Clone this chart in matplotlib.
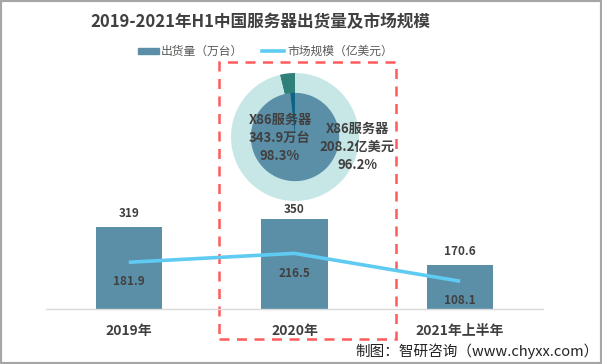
import matplotlib
matplotlib.use("Agg")
import matplotlib.pyplot as plt
from matplotlib.patches import Rectangle
from matplotlib.lines import Line2D

plt.rcParams['font.family'] = ['Noto Sans CJK SC', 'DejaVu Sans']

years = ["2019年", "2020年", "2021年上半年"]
shipments = [319, 350, 170.6]       # 万台
market = [181.9, 216.5, 108.1]      # 亿美元
x86_ship_share = [1.7, 98.3]
x86_market_share = [3.8, 96.2]

W, H = 602, 364
bar_color = "#5B8FA8"
line_color = "#5FCBF3"
text_color = "#404040"

fig = plt.figure(figsize=(W / 100, H / 100), dpi=100)

def fx(px):
    return px / W

def fy(py):
    return 1 - py / H

# main axes
ax = fig.add_axes([fx(46), 55 / H, 497 / W, 246.7 / H])
ax.set_zorder(2)
xs = range(len(years))
ax.bar(xs, shipments, width=0.4, color=bar_color, zorder=2)
ax.plot(xs, market, color=line_color, lw=2.6, zorder=3, solid_capstyle="butt")
ax.set_xlim(-0.5, 2.5)
ax.set_ylim(0, 960)
for s in ["top", "right", "left"]:
    ax.spines[s].set_visible(False)
ax.spines["bottom"].set_color("#D9D9D9")
ax.spines["bottom"].set_linewidth(1)
ax.set_yticks([])
ax.set_xticks(list(xs))
ax.set_xticklabels(years, fontsize=10, fontweight="bold", color=text_color)
ax.tick_params(axis="x", length=0, pad=11)
ax.patch.set_alpha(0)

bar_offsets = [5, 2, 5]
for i, v in enumerate(shipments):
    ax.annotate(f"{v:g}", (i, v), xytext=(0, bar_offsets[i]), textcoords="offset points",
                ha="center", va="bottom", fontsize=8.5, fontweight="bold", color=text_color)
for i, v in enumerate(market):
    ax.annotate(f"{v:g}", (i, v), xytext=(0, -9.5), textcoords="offset points",
                ha="center", va="top", fontsize=8.5, fontweight="bold", color=text_color)

# donut
cx, cy, r = 295, 137, 64
ax2 = fig.add_axes([fx(cx - r), (H - cy - r) / H, 2 * r / W, 2 * r / H])
ax2.set_zorder(1)
ax2.pie(x86_market_share, radius=1, startangle=90, counterclock=True,
        colors=["#2F8078", "#C7E7E7"], wedgeprops=dict(linewidth=0))
ax2.pie(x86_ship_share, radius=0.69, startangle=90, counterclock=True,
        colors=["#0E6287", bar_color], wedgeprops=dict(linewidth=0))
ax2.set_xlim(-1, 1)
ax2.set_ylim(-1, 1)
ax2.set_aspect("equal")
ax2.axis("off")

fig.text(fx(280), fy(138), "X86服务器\n343.9万台\n98.3%", ha="center", va="center",
         fontsize=9.5, fontweight="bold", color=text_color, linespacing=1.4, zorder=5)
fig.text(fx(357), fy(147), "X86服务器\n208.2亿美元\n96.2%", ha="center", va="center",
         fontsize=9.5, fontweight="bold", color=text_color, linespacing=1.4, zorder=5)

# dashed highlight box
fig.add_artist(Rectangle((fx(219), fy(339)), 177 / W, 277 / H, transform=fig.transFigure,
                         fill=False, edgecolor="#FF5B5B", lw=1.8, linestyle=(0, (4, 3))))

# title and legend
fig.text(fx(260), fy(22), "2019-2021年H1中国服务器出货量及市场规模", ha="center", va="center",
         fontsize=12, fontweight="bold", color=text_color)
fig.add_artist(Rectangle((fx(138), fy(54)), 21 / W, 6 / H, transform=fig.transFigure,
                         color=bar_color))
fig.text(fx(161), fy(51), "出货量（万台）", ha="left", va="center", fontsize=8.5, color="#595959")
fig.add_artist(Line2D([fx(262), fx(284)], [fy(51), fy(51)], transform=fig.transFigure,
                      color=line_color, lw=2.6))
fig.text(fx(287), fy(51), "市场规模（亿美元）", ha="left", va="center", fontsize=8.5, color="#595959")

fig.text(fx(599), fy(351), "制图：智研咨询（www.chyxx.com）", ha="right", va="center",
         fontsize=10.5, color="#222222")

# outer border
fig.add_artist(Rectangle((0, 0), 1, 1, transform=fig.transFigure, fill=False,
                         edgecolor="#A6A6A6", lw=3))

fig.savefig("out.png", dpi=100)
